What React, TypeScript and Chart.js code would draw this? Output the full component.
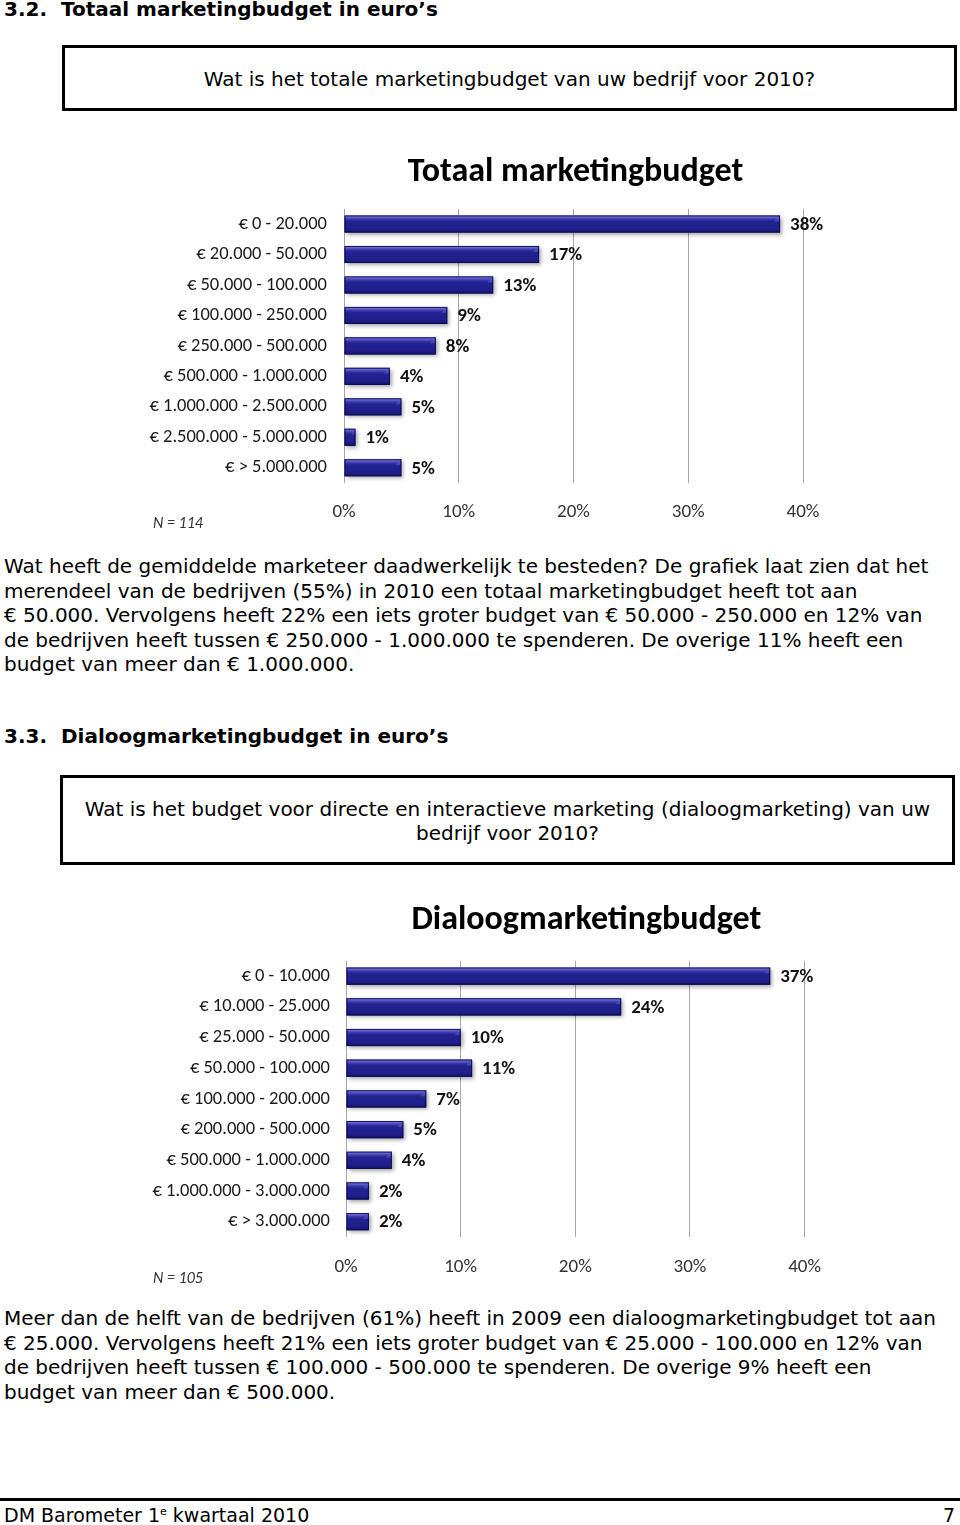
import React, { useEffect, useRef } from "react";
import { Chart, registerables } from "chart.js";

Chart.register(...registerables);

// ---- data ----
const totalCategories = [
  "€ 0 - 20.000",
  "€ 20.000 - 50.000",
  "€ 50.000 - 100.000",
  "€ 100.000 - 250.000",
  "€ 250.000 - 500.000",
  "€ 500.000 - 1.000.000",
  "€ 1.000.000 - 2.500.000",
  "€ 2.500.000 - 5.000.000",
  "€ > 5.000.000",
];
const totalValues = [38, 17, 13, 9, 8, 4, 5, 1, 5];

const dialoogCategories = [
  "€ 0 - 10.000",
  "€ 10.000 - 25.000",
  "€ 25.000 - 50.000",
  "€ 50.000 - 100.000",
  "€ 100.000 - 200.000",
  "€ 200.000 - 500.000",
  "€ 500.000 - 1.000.000",
  "€ 1.000.000 - 3.000.000",
  "€ > 3.000.000",
];
const dialoogValues = [37, 24, 10, 11, 7, 5, 4, 2, 2];

const axisTicks = [0, 10, 20, 30, 40];

const para1 = [
  "Wat heeft de gemiddelde marketeer daadwerkelijk te besteden? De grafiek laat zien dat het",
  "merendeel van de bedrijven (55%) in 2010 een totaal marketingbudget heeft tot aan",
  "€ 50.000. Vervolgens heeft 22% een iets groter budget van € 50.000 - 250.000 en 12% van",
  "de bedrijven heeft tussen € 250.000 - 1.000.000 te spenderen. De overige 11% heeft een",
  "budget van meer dan € 1.000.000.",
];
const para2 = [
  "Meer dan de helft van de bedrijven (61%) heeft in 2009 een dialoogmarketingbudget tot aan",
  "€ 25.000. Vervolgens heeft 21% een iets groter budget van € 25.000 - 100.000 en 12% van",
  "de bedrijven heeft tussen € 100.000 - 500.000 te spenderen. De overige 9% heeft een",
  "budget van meer dan € 500.000.",
];

const CHART_FONT = "Carlito, Calibri, 'Liberation Sans Narrow', 'Open Sans', sans-serif";
const PAGE_FONT = "Verdana, 'DejaVu Sans', sans-serif";
const PAGE_SIZE = 20;

const barStylePlugin = {
  id: "barStyle",
  afterLayout(chart: any) {
    const off = chart.options.plugins?.barStyle?.titleOffset || 0;
    const t = chart.titleBlock;
    if (t && off) {
      t.left += off;
      t.right += off;
    }
  },
  beforeDatasetsDraw(chart: any) {
    const ctx = chart.ctx;
    ctx.save();
    ctx.shadowColor = "rgba(0,0,0,0.35)";
    ctx.shadowBlur = 4;
    ctx.shadowOffsetX = 2;
    ctx.shadowOffsetY = 2;
  },
  afterDatasetsDraw(chart: any) {
    const ctx = chart.ctx;
    ctx.restore();
    const meta = chart.getDatasetMeta(0);
    const values = chart.data.datasets[0].data as number[];
    meta.data.forEach((el: any, i: number) => {
      const p = el.getProps(["x", "y", "base", "height"], true);
      const left = Math.min(p.base, p.x);
      const right = Math.max(p.base, p.x);
      const top = p.y - p.height / 2;
      const h = p.height;
      const g = ctx.createLinearGradient(0, top, 0, top + h);
      g.addColorStop(0, "rgba(150,150,235,0.95)");
      g.addColorStop(0.12, "rgba(110,110,220,0.75)");
      g.addColorStop(0.35, "rgba(50,50,170,0.15)");
      g.addColorStop(0.7, "rgba(20,20,120,0)");
      g.addColorStop(1, "rgba(5,5,50,0.45)");
      ctx.save();
      ctx.fillStyle = g;
      ctx.fillRect(left, top, right - left, h);
      // bevel at right end
      ctx.fillStyle = "rgba(90,90,200,0.55)";
      ctx.beginPath();
      ctx.moveTo(right - 1, top);
      ctx.lineTo(right - Math.min(6, (right - left) / 3), top + h * 0.35);
      ctx.lineTo(right - 1, top + h * 0.35);
      ctx.closePath();
      ctx.fill();
      ctx.strokeStyle = "rgba(10,10,80,0.9)";
      ctx.lineWidth = 1;
      ctx.strokeRect(left + 0.5, top + 0.5, right - left - 1, h - 1);
      ctx.restore();

      ctx.save();
      ctx.font = `bold 19px ${CHART_FONT}`;
      ctx.fillStyle = "#111";
      ctx.textAlign = "left";
      ctx.textBaseline = "middle";
      ctx.fillText(`${values[i]}%`, right + 10, p.y + 1);
      ctx.restore();
    });
  },
};

type BarChartProps = {
  title: string;
  labels: string[];
  values: number[];
  width: number;
  height: number;
  yAxisWidth: number;
  xAxisHeight: number;
  padRight: number;
  titlePadTop: number;
  titlePadBottom: number;
  titleOffset: number;
  tickPad: number;
  labelPad: number;
};

function BarChart(props: BarChartProps) {
  const ref = useRef<HTMLCanvasElement | null>(null);
  useEffect(() => {
    if (!ref.current) return;
    const chart = new Chart(ref.current, {
      type: "bar",
      data: {
        labels: props.labels,
        datasets: [
          {
            data: props.values,
            backgroundColor: "#20208e",
            borderWidth: 0,
            barPercentage: 0.56,
            categoryPercentage: 1,
          },
        ],
      },
      options: {
        indexAxis: "y",
        animation: false,
        responsive: false,
        devicePixelRatio: 1,
        layout: { padding: { left: 0, right: props.padRight, top: 0, bottom: 0 } },
        plugins: {
          legend: { display: false },
          tooltip: { enabled: false },
          barStyle: { titleOffset: props.titleOffset },
          title: {
            display: true,
            text: props.title,
            fullSize: false,
            color: "#000",
            font: { family: CHART_FONT, size: 34, weight: "bold" },
            padding: { top: props.titlePadTop, bottom: props.titlePadBottom },
          },
        },
        scales: {
          x: {
            min: axisTicks[0],
            max: axisTicks[axisTicks.length - 1],
            afterBuildTicks: (scale: any) => {
              scale.ticks = axisTicks.map((v) => ({ value: v }));
            },
            ticks: {
              callback: (v: any) => `${v}%`,
              padding: props.tickPad,
              color: "#333",
              font: { family: CHART_FONT, size: 19 },
            },
            grid: { color: "#a8a8a8", drawTicks: false, lineWidth: 1 },
            border: { display: false },
            afterFit: (scale: any) => {
              scale.height = props.xAxisHeight;
            },
          },
          y: {
            ticks: {
              padding: props.labelPad,
              color: "#1a1a1a",
              font: { family: CHART_FONT, size: 18.5 },
            },
            grid: { display: false, drawTicks: false },
            border: { display: false },
            afterFit: (scale: any) => {
              scale.width = props.yAxisWidth;
            },
          },
        },
      } as any,
      plugins: [barStylePlugin],
    });
    return () => chart.destroy();
  }, []);
  return (
    <canvas
      ref={ref}
      width={props.width}
      height={props.height}
      style={{ width: props.width, height: props.height, display: "block" }}
    />
  );
}

const abs = (left: number, top: number, extra: React.CSSProperties = {}): React.CSSProperties => ({
  position: "absolute",
  left,
  top,
  whiteSpace: "nowrap",
  ...extra,
});

function TextLines({ lines, x, firstCenter, step, size }: { lines: string[]; x: number; firstCenter: number; step: number; size: number }) {
  return (
    <>
      {lines.map((l, i) => (
        <div
          key={i}
          style={abs(x, firstCenter + i * step - 12, {
            fontFamily: PAGE_FONT,
            fontSize: size,
            lineHeight: "24px",
            color: "#000",
          })}
        >
          {l}
        </div>
      ))}
    </>
  );
}

export default function App() {
  return (
    <div
      style={{
        position: "absolute",
        left: 0,
        top: 0,
        width: 960,
        height: 1525,
        background: "#fff",
        overflow: "hidden",
        fontFamily: PAGE_FONT,
      }}
    >
      {/* Heading 3.2 */}
      <div style={abs(4, -3, { fontSize: 20, fontWeight: "bold", lineHeight: "24px" })}>
        3.2.&nbsp;&nbsp;Totaal marketingbudget in euro’s
      </div>
      {/* Question box 1 */}
      <div
        style={{
          position: "absolute",
          left: 62,
          top: 45,
          width: 895,
          height: 66,
          boxSizing: "border-box",
          border: "3px solid #000",
        }}
      />
      <div style={abs(62, 67, { width: 895, textAlign: "center", fontSize: PAGE_SIZE, lineHeight: "24px" })}>
        Wat is het totale marketingbudget van uw bedrijf voor 2010?
      </div>

      {/* Chart 1 */}
      <div style={{ position: "absolute", left: 140, top: 140 }}>
        <BarChart
          title="Totaal marketingbudget"
          labels={totalCategories}
          values={totalValues}
          width={700}
          height={400}
          yAxisWidth={204}
          xAxisHeight={57}
          padRight={37}
          titlePadTop={12}
          titlePadBottom={16}
          titleOffset={2}
          tickPad={18}
          labelPad={17}
        />
      </div>
      <div style={abs(153, 513, { fontFamily: CHART_FONT, fontStyle: "italic", fontSize: 16, lineHeight: "20px", color: "#333" })}>
        N = 114
      </div>

      <TextLines lines={para1} x={4} firstCenter={566} step={24.5} size={PAGE_SIZE} />

      {/* Heading 3.3 */}
      <div style={abs(4, 724, { fontSize: 20, fontWeight: "bold", lineHeight: "24px" })}>
        3.3.&nbsp;&nbsp;Dialoogmarketingbudget in euro’s
      </div>
      <div
        style={{
          position: "absolute",
          left: 60,
          top: 775,
          width: 895,
          height: 90,
          boxSizing: "border-box",
          border: "3px solid #000",
        }}
      />
      <div style={abs(60, 797, { width: 895, textAlign: "center", fontSize: PAGE_SIZE, lineHeight: "24px", whiteSpace: "normal" })}>
        Wat is het budget voor directe en interactieve marketing (dialoogmarketing) van uw
        <br />
        bedrijf voor 2010?
      </div>

      {/* Chart 2 */}
      <div style={{ position: "absolute", left: 140, top: 885 }}>
        <BarChart
          title="Dialoogmarketingbudget"
          labels={dialoogCategories}
          values={dialoogValues}
          width={700}
          height={405}
          yAxisWidth={206}
          xAxisHeight={53}
          padRight={29}
          titlePadTop={15}
          titlePadBottom={20}
          titleOffset={11}
          tickPad={19}
          labelPad={16}
        />
      </div>
      <div style={abs(153, 1268, { fontFamily: CHART_FONT, fontStyle: "italic", fontSize: 16, lineHeight: "20px", color: "#333" })}>
        N = 105
      </div>

      <TextLines lines={para2} x={4} firstCenter={1318} step={24.5} size={PAGE_SIZE} />

      {/* Footer */}
      <div style={{ position: "absolute", left: 0, top: 1498, width: 960, height: 3, background: "#000" }} />
      <div style={abs(4, 1503, { fontSize: 19, lineHeight: "24px" })}>
        DM Barometer 1<sup style={{ fontSize: 11, verticalAlign: "7px", lineHeight: 0 }}>e</sup> kwartaal 2010
      </div>
      <div style={abs(943, 1503, { fontSize: 19, lineHeight: "24px" })}>7</div>
    </div>
  );
}
